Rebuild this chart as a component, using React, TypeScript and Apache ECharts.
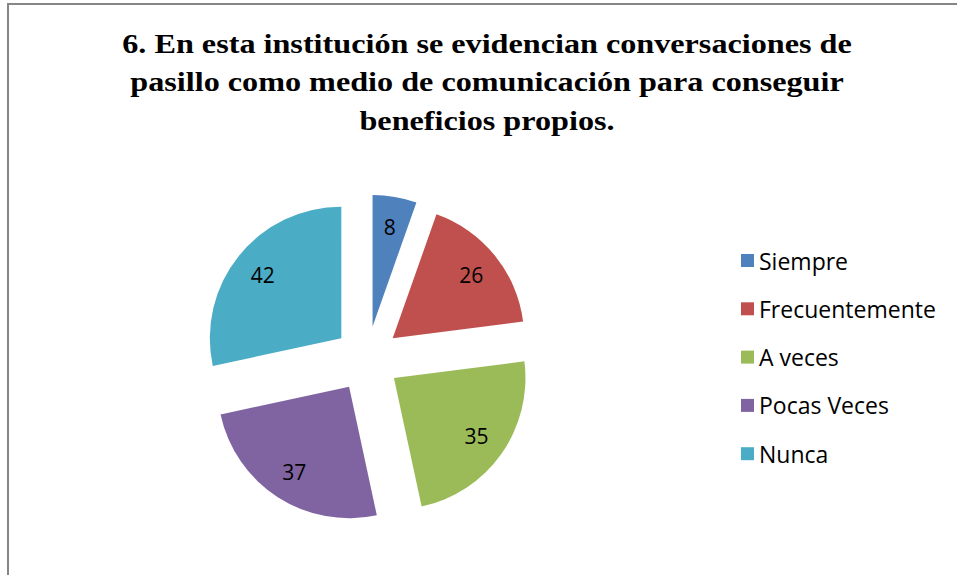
import React, { useEffect, useRef } from "react";
import * as echarts from "echarts";

const TITLE_LINES = [
  "6. En esta institución se evidencian conversaciones de",
  "pasillo como medio de comunicación para conseguir",
  "beneficios propios.",
];
const CATEGORIES = ["Siempre", "Frecuentemente", "A veces", "Pocas Veces", "Nunca"];
const VALUES = [8, 26, 35, 37, 42];
const COLORS = ["#4F81BD", "#C0504D", "#9BBB59", "#8064A2", "#4BACC6"];

const FONT = "'Open Sans', 'Noto Sans', sans-serif";

export default function App() {
  const ref = useRef<HTMLDivElement>(null);
  useEffect(() => {
    if (!ref.current) return;
    const chart = echarts.init(ref.current, undefined, { renderer: "svg" });
    const center = [367, 359];
    const offset = 33;
    const realData = CATEGORIES.map((name, i) => ({
      name,
      value: VALUES[i],
      selected: true,
      itemStyle: { color: COLORS[i] },
      select: { itemStyle: { color: COLORS[i], borderWidth: 0 } },
    }));
    const ghostData = CATEGORIES.map((name, i) => ({
      name,
      value: VALUES[i],
      selected: true,
      itemStyle: { color: "rgba(0,0,0,0)" },
      select: { itemStyle: { color: "rgba(0,0,0,0)", borderWidth: 0 } },
    }));
    chart.setOption({
      animation: false,
      backgroundColor: "#ffffff",
      graphic: [
        {
          type: "rect",
          shape: { x: 8, y: 4, width: 1200, height: 1200 },
          style: { fill: "none", stroke: "#868686", lineWidth: 2 },
          silent: true,
        },
        {
          type: "text",
          x: 487,
          y: 24,
          scaleX: 1.15,
          style: {
            text: TITLE_LINES.join("\n"),
            align: "center",
            verticalAlign: "top",
            fontFamily: "Liberation Serif",
            fontWeight: "bold",
            fontSize: 28,
            lineHeight: 38.5,
            fill: "#000000",
          },
          silent: true,
        },
      ],
      legend: {
        orient: "vertical",
        left: 736,
        top: 244,
        itemWidth: 13,
        itemHeight: 13,
        itemGap: 25.3,
        icon: "rect",
        data: CATEGORIES,
        textStyle: { fontFamily: FONT, fontSize: 23, color: "#000000", lineHeight: 21 },
        selectedMode: false,
      },
      series: [
        {
          type: "pie",
          center,
          radius: [0, 131.5],
          startAngle: 90,
          clockwise: true,
          selectedMode: "multiple",
          selectedOffset: offset,
          label: { show: false },
          labelLine: { show: false },
          emphasis: { disabled: true },
          silent: true,
          data: realData,
        },
        {
          type: "pie",
          center,
          radius: [0, 196],
          startAngle: 90,
          clockwise: true,
          selectedMode: "multiple",
          selectedOffset: offset,
          label: {
            show: true,
            position: "inside",
            formatter: "{c}",
            fontFamily: FONT,
            fontSize: 21,
            color: "#000000",
          },
          labelLine: { show: false },
          emphasis: { disabled: true },
          silent: true,
          z: 3,
          data: ghostData,
        },
      ],
    });
    return () => chart.dispose();
  }, []);
  return (
    <div
      ref={ref}
      style={{ position: "fixed", left: 0, top: 0, width: 957, height: 575 }}
    />
  );
}
